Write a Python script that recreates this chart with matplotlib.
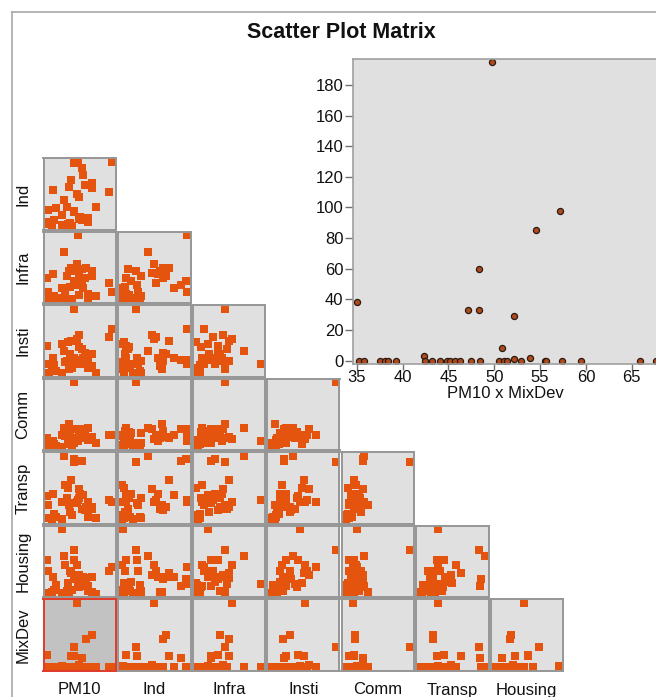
import matplotlib
matplotlib.use("Agg")
import matplotlib.pyplot as plt
from matplotlib.lines import Line2D

plt.rcParams['font.family'] = ['Liberation Sans', 'DejaVu Sans']

# ---------------- data (one value per observation) ----------------
pm10 = [35.0, 35.3, 35.8, 37.5, 38.1, 38.4, 39.3, 42.3, 42.5, 43.2, 44.1, 44.8, 45.2,
        45.7, 46.3, 47.1, 47.5, 48.3, 48.3, 48.5, 49.8, 50.5, 50.8, 51.1, 51.4, 52.2,
        52.2, 52.9, 53.9, 54.5, 55.5, 55.6, 57.2, 57.4, 59.5, 65.9, 67.6]
mixdev = [38, 0, 0, 0, 0, 0, 0, 3, 0, 0, 0, 0, 0,
          0, 0, 33, 0, 60, 33, 0, 195, 0, 8, 0, 0, 29,
          1, 0, 2, 85, 0, 0, 98, 0, 0, 0, 0]
ind = [8, 25, 5, 2, 55, 10, 28, 3, 18, 40, 1, 30, 4,
       60, 6, 70, 2, 22, 24, 95, 49, 97, 45, 12, 15, 88,
       10, 78, 62, 62, 8, 14, 66, 58, 30, 52, 97]
infra = [35, 15, 3, 6, 40, 8, 4, 20, 6, 72, 12, 38, 3,
         45, 22, 50, 4, 45, 25, 30, 55, 97, 42, 10, 30, 25,
         48, 20, 35, 50, 12, 5, 38, 45, 8, 28, 15]
insti = [42, 15, 3, 8, 25, 14, 5, 45, 2, 35, 18, 20, 48,
         8, 30, 50, 10, 97, 25, 22, 52, 15, 58, 40, 15, 22,
         38, 25, 32, 20, 25, 10, 30, 12, 3, 55, 68]
comm = [15, 8, 3, 4, 10, 6, 3, 20, 2, 30, 18, 22, 6,
        35, 25, 15, 5, 97, 8, 28, 14, 10, 28, 24, 22, 28,
        15, 20, 25, 16, 30, 12, 16, 15, 8, 20, 20]
transp = [38, 25, 6, 3, 42, 12, 8, 30, 5, 97, 55, 35, 50,
          25, 15, 62, 10, 88, 28, 92, 30, 32, 48, 36, 42, 90,
          20, 40, 18, 22, 30, 8, 22, 20, 6, 33, 30]
housing = [52, 35, 3, 5, 26, 8, 15, 97, 3, 58, 45, 6, 18,
           5, 36, 32, 8, 67, 52, 24, 45, 16, 30, 12, 20, 14,
           16, 26, 24, 25, 14, 6, 27, 5, 2, 35, 42]

var_names = ['PM10', 'Ind', 'Infra', 'Insti', 'Comm', 'Transp', 'Housing', 'MixDev']
var_data = [pm10, ind, infra, insti, comm, transp, housing, mixdev]

big_yticks = [0, 20, 40, 60, 80, 100, 120, 140, 160, 180]
big_xticks = [35, 40, 45, 50, 55, 60, 65]

# ---------------- figure ----------------
W, H = 656, 697
fig = plt.figure(figsize=(W / 100, H / 100), dpi=100)
fig.patch.set_facecolor('white')


def px_axes(left, top, w, h):
    return fig.add_axes([left / W, 1 - (top + h) / H, w / W, h / H])


# outer frame (top and left edges visible)
frame_col = '#a8a8a8'
fig.add_artist(Line2D([12 / W, 12 / W], [0, 1 - 12 / H], color=frame_col, lw=1.2,
                      transform=fig.transFigure))
fig.add_artist(Line2D([12 / W, 1], [1 - 12 / H, 1 - 12 / H], color=frame_col, lw=1.2,
                      transform=fig.transFigure))

fig.text(341 / W, 1 - 32 / H, 'Scatter Plot Matrix', ha='center', va='center',
         fontsize=15.5, fontweight='bold', color='#111111')

orange = '#E4540E'
col0, row0 = 43.5, 158.3
cpitch, rpitch = 74.5, 73.5
pw, ph = 72.5, 71.5


def lims(vals):
    lo, hi = min(vals), max(vals)
    r = hi - lo
    p = 0.055
    return lo - r * p, hi + r * p


n = len(var_names)
for i in range(1, n):
    for j in range(0, i):
        left = col0 + j * cpitch
        top = row0 + (i - 1) * rpitch
        ax = px_axes(left, top, pw, ph)
        selected = (i == n - 1 and j == 0)
        ax.set_facecolor('#c2c2c2' if selected else '#e0e0e0')
        ax.plot(var_data[j], var_data[i], 's', color=orange, ms=5.2, mew=0)
        ax.set_xlim(*lims(var_data[j]))
        ax.set_ylim(*lims(var_data[i]))
        ax.set_xticks([])
        ax.set_yticks([])
        for s in ax.spines.values():
            s.set_color('#e03a2a' if selected else '#969696')
            s.set_linewidth(1.4)

# row labels
for i in range(1, n):
    top = row0 + (i - 1) * rpitch
    fig.text(23 / W, 1 - (top + ph / 2) / H, var_names[i], rotation=90,
             ha='center', va='center', fontsize=12, color='#111111')
# column labels
for j in range(0, n - 1):
    left = col0 + j * cpitch
    fig.text((left + pw / 2) / W, 1 - 690 / H, var_names[j], ha='center',
             va='center', fontsize=12, color='#111111')

# ---------------- enlarged PM10 x MixDev plot ----------------
bl, bt, br, bb = 353.3, 59.3, 680.0, 364.0
bax = px_axes(bl, bt, br - bl, bb - bt)
bax.set_facecolor('#e0e0e0')
bax.plot(pm10, mixdev, 'o', ms=4.4, mfc='#b04a1c', mec='#2a1a10', mew=0.9, clip_on=True)
xspan = 9.17
bax.set_xlim(34.63, 34.63 + (br - bl) / xspan)
bax.set_ylim(-2.2, 196.7)
bax.set_yticks(big_yticks)
bax.set_xticks(big_xticks)
bax.tick_params(axis='y', length=6, width=1, color='#707070', labelsize=12,
                labelcolor='#111111', pad=1)
bax.tick_params(axis='x', length=4, width=1, color='#707070', labelsize=12,
                labelcolor='#111111', pad=0)
for name, s in bax.spines.items():
    s.set_color('#a0a0a0')
    s.set_linewidth(1.2)
fig.text(505 / W, 1 - 394 / H, 'PM10 x MixDev', ha='center', va='center',
         fontsize=12, color='#111111')

fig.savefig('out.png', dpi=100, facecolor='white')
